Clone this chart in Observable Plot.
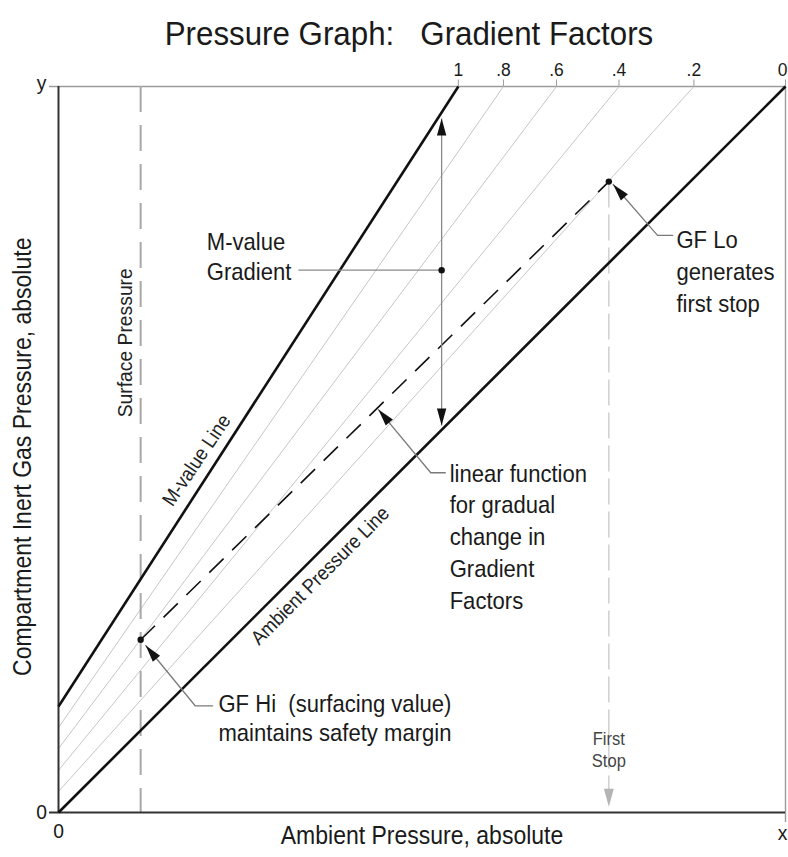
<!DOCTYPE html>
<html>
<head>
<meta charset="utf-8">
<script src="https://cdn.jsdelivr.net/npm/d3@7"></script>
<script src="https://cdn.jsdelivr.net/npm/@observablehq/plot@0.6"></script>
<style>
  body { margin: 0; background: #fff; }
  #wrap { position: relative; width: 788px; }
  #title { position: relative; height: 55px; font-family: "Liberation Sans", Arial, sans-serif; font-size: 34px; color: #1a1a1a; }
  #title span { position: absolute; left: 409px; top: 16px; line-height: 34px; transform: translateX(-50%) scaleX(0.92); white-space: pre; }
  svg text { white-space: pre; }
</style>
</head>
<body>
<div id="wrap">
  <div id="title"><span>Pressure Graph:   Gradient Factors</span></div>
  <div id="chart"></div>
</div>
<script>
// ---- data (both axes run 0 .. 1) ----
const gradientFactors   = [1, 0.8, 0.6, 0.4, 0.2, 0];
const gfLabels          = ["1", ".8", ".6", ".4", ".2", "0"];
// inert gas pressure where each GF line meets the y axis (ambient = 0)
const gfInterceptAtZero = [0.146, 0.117, 0.088, 0.058, 0.029, 0];
// ambient pressure where each GF line reaches the top (inert gas = 1)
const gfAmbientAtTop    = [0.55, 0.612, 0.685, 0.771, 0.874, 1.0];
const surfacePressure   = [0.113];
const gfHiPoint         = [{p: 0.113, m: 0.238}];
const gfLoPoint         = [{p: 0.757, m: 0.869}];
const gradientProbe     = [{p: 0.527, low: 0.533, high: 0.956, mid: 0.747}];

const gfRows = gradientFactors.map((gf, i) => ({
  gf, label: gfLabels[i], y0: gfInterceptAtZero[i], xTop: gfAmbientAtTop[i]
}));
const mainLines = gfRows.filter(d => d.gf === 1 || d.gf === 0);
const midLines  = gfRows.filter(d => d.gf !== 1 && d.gf !== 0);
const topLabels = gfRows.filter(d => d.gf !== 0);
const zeroLabel = gfRows.filter(d => d.gf === 0);

const FONT = "Liberation Sans, Arial, sans-serif";
const INK = "#1a1a1a";

// elongated filled arrowhead, tip at origin, pointing up
const arrowHead = {
  draw(ctx, size) {
    const r = Math.sqrt(size / Math.PI);
    const L = 2 * r, w = 0.55 * r;
    ctx.moveTo(0, 0); ctx.lineTo(-w, L); ctx.lineTo(w, L); ctx.closePath();
  }
};

// leaders: [tip, knee, end of horizontal]
const leaders = [
  {name: "hi",  pts: [[0.120, 0.230], [0.188, 0.147], [0.212, 0.147]], rot: -39},
  {name: "lin", pts: [[0.440, 0.555], [0.512, 0.468], [0.532, 0.468]], rot: -40},
  {name: "lo",  pts: [[0.763, 0.865], [0.824, 0.795], [0.845, 0.795]], rot: -41}
];
const leaderPts = leaders.flatMap(l => l.pts.map(([x, y]) => ({name: l.name, x, y})));
const leaderTips = leaders.map(l => ({x: l.pts[0][0], y: l.pts[0][1], rot: l.rot}));

const chart = Plot.plot({
  width: 788,
  height: 802,
  marginTop: 31,
  marginLeft: 58,
  marginRight: 3,
  marginBottom: 45,
  x: {domain: [0, 1], axis: null},
  y: {domain: [0, 1], axis: null},
  style: {fontFamily: FONT, background: "#fff"},
  marks: [
    // frame
    Plot.ruleY([1], {stroke: "#9c9c9c", strokeWidth: 1.6, insetLeft: -9}),
    Plot.ruleX([1], {stroke: "#9c9c9c", strokeWidth: 1.4, insetBottom: -10}),
    Plot.ruleX(gfAmbientAtTop, {y1: 1, y2: 1.009, stroke: "#9c9c9c", strokeWidth: 1}),
    // intermediate GF lines
    Plot.link(midLines, {x1: 0, y1: "y0", x2: "xTop", y2: 1, stroke: "#c6c6c6", strokeWidth: 1}),
    // surface pressure
    Plot.ruleX(surfacePressure, {stroke: "#a8a8a8", strokeWidth: 2, strokeDasharray: "26,13"}),
    // first stop
    Plot.link(gfLoPoint, {x1: "p", y1: "m", x2: "p", y2: 0.03, stroke: "#d0d0d0", strokeWidth: 1.5, strokeDasharray: "26,7"}),
    Plot.dot(gfLoPoint, {x: "p", y: 0.008, symbol: arrowHead, r: 9, rotate: 180, fill: "#b4b4b4", stroke: "none"}),
    // axes
    Plot.ruleX([0], {stroke: "#333", strokeWidth: 2}),
    Plot.ruleY([0], {stroke: "#333", strokeWidth: 2, insetLeft: -9}),
    // M-value and ambient lines
    Plot.link(mainLines, {x1: 0, y1: "y0", x2: "xTop", y2: 1, stroke: "#111", strokeWidth: 2.6}),
    // GF Hi -> GF Lo dashed
    Plot.link(gfHiPoint, {x1: "p", y1: "m", x2: () => gfLoPoint[0].p, y2: () => gfLoPoint[0].m, stroke: "#111", strokeWidth: 1.6, strokeDasharray: "20,12"}),
    // M-value gradient arrow
    Plot.link(gradientProbe, {x1: "p", y1: "low", x2: "p", y2: "high", stroke: "#8a8a8a", strokeWidth: 1.3}),
    Plot.dot(gradientProbe, {x: "p", y: "high", symbol: arrowHead, r: 8.5, rotate: 0, fill: "#111", stroke: "none"}),
    Plot.dot(gradientProbe, {x: "p", y: "low", symbol: arrowHead, r: 8.5, rotate: 180, fill: "#111", stroke: "none"}),
    Plot.link(gradientProbe, {x1: 0.33, y1: "mid", x2: "p", y2: "mid", stroke: "#8a8a8a", strokeWidth: 1.3}),
    // points
    Plot.dot([...gfHiPoint, ...gfLoPoint], {x: "p", y: "m", r: 3.2, fill: "#111"}),
    Plot.dot(gradientProbe, {x: "p", y: "mid", r: 3.2, fill: "#111"}),
    // leaders
    Plot.line(leaderPts, {x: "x", y: "y", z: "name", stroke: "#7a7a7a", strokeWidth: 1.3}),
    Plot.dot(leaderTips, {x: "x", y: "y", symbol: arrowHead, r: 8.5, rotate: "rot", fill: "#111", stroke: "none"}),
    // GF labels on top
    Plot.text(topLabels, {x: "xTop", y: 1, text: "label", dy: -17, fontSize: 19, fill: INK}),
    Plot.text(zeroLabel, {x: "xTop", y: 1, text: "label", dy: -17, dx: 2, textAnchor: "end", fontSize: 19, fill: INK}),
    // axis end labels
    Plot.text(["0"], {x: 0, y: 0, dx: -17, fontSize: 21, fill: INK}),
    Plot.text(["y"], {x: 0, y: 1, dx: -17, dy: -3, fontSize: 21, fill: INK}),
    Plot.text(["0"], {x: 0, y: 0, dy: 19, fontSize: 21, fill: INK}),
    Plot.text(["x"], {x: 1, y: 0, dy: 21, dx: 2, textAnchor: "end", fontSize: 21, fill: INK}),
    // axis titles
    Plot.text(["Ambient Pressure, absolute"], {frameAnchor: "bottom", dy: 31, fontSize: 25, fill: INK}),
    Plot.text(["Compartment Inert Gas Pressure, absolute"], {x: 0, y: 0.49, dx: -36, rotate: -90, fontSize: 25, fill: INK}),
    // in-plot labels
    Plot.text(["Surface Pressure"], {x: 0.092, y: 0.647, rotate: -90, fontSize: 21, fill: "#222"}),
    Plot.text(["M-value Line"], {x: 0.190, y: 0.485, rotate: -56, fontSize: 20, fill: "#222"}),
    Plot.text(["Ambient Pressure Line"], {x: 0.360, y: 0.326, rotate: -45, fontSize: 20, fill: "#222"}),
    Plot.text(["M-value\nGradient"], {x: 0.204, y: 0.767, textAnchor: "start", lineHeight: 1.25, fontSize: 24, fill: INK}),
    Plot.text(["linear function\nfor gradual\nchange in\nGradient\nFactors"], {x: 0.538, y: 0.382, textAnchor: "start", lineHeight: 1.33, fontSize: 24, fill: INK}),
    Plot.text(["GF Lo\ngenerates\nfirst stop"], {x: 0.850, y: 0.747, textAnchor: "start", lineHeight: 1.33, fontSize: 24, fill: INK}),
    Plot.text(["GF Hi  (surfacing value)\nmaintains safety margin"], {x: 0.220, y: 0.131, textAnchor: "start", lineHeight: 1.22, fontSize: 24, fill: INK}),
    Plot.text(["First\nStop"], {x: 0.757, y: 0.088, lineHeight: 1.25, fontSize: 18, fill: "#444"})
  ]
});
// condense all glyphs horizontally (reference uses a narrow sans)
chart.querySelectorAll("text").forEach(t => {
  const tr = t.getAttribute("transform");
  if (tr !== null) t.setAttribute("transform", tr + " scale(0.92,1)");
});
document.getElementById("chart").appendChild(chart);
</script>
</body>
</html>
